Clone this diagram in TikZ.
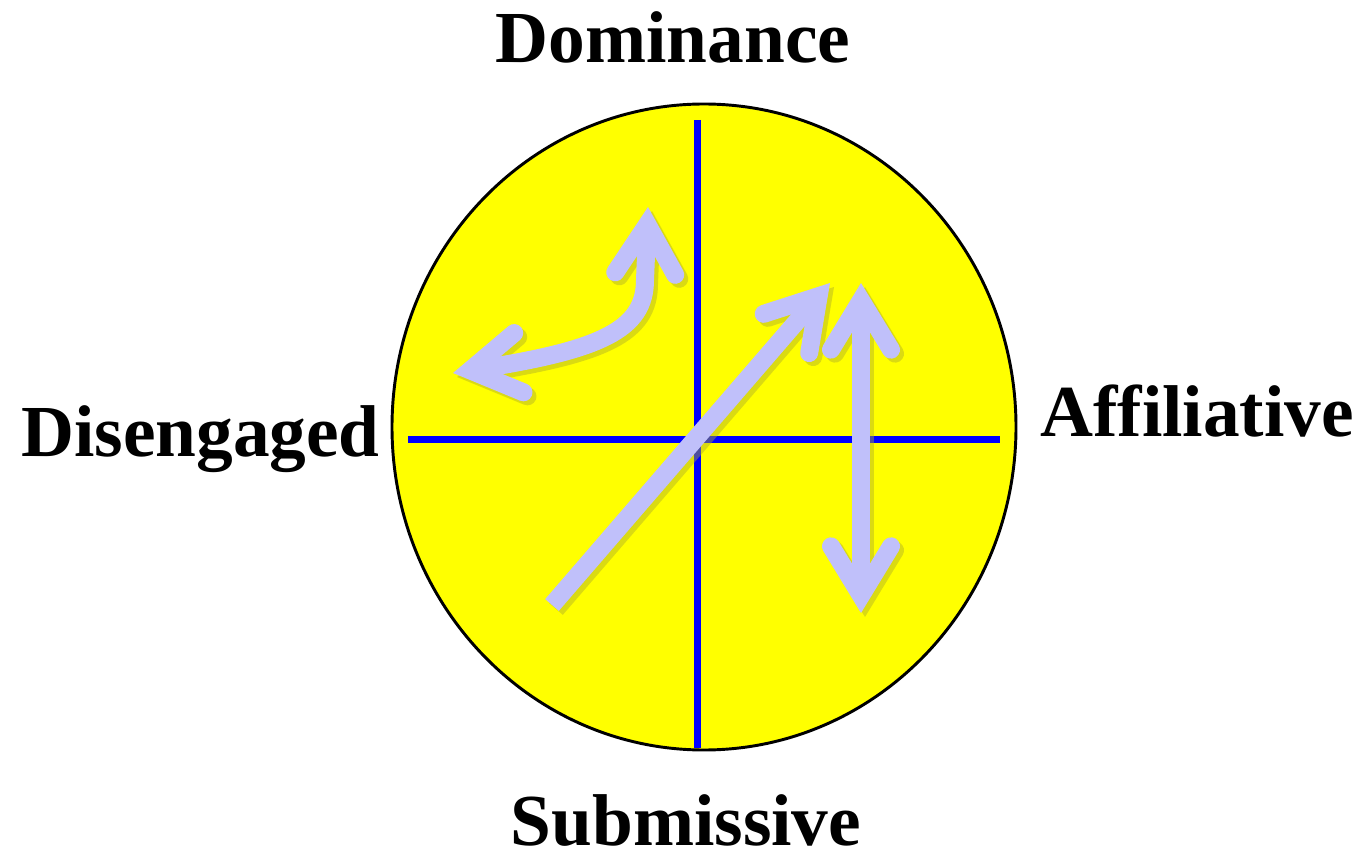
\documentclass[tikz,border=0pt]{standalone}
\usepackage{fontspec}
\setmainfont{Liberation Serif}
\usetikzlibrary{arrows.meta}
\definecolor{discfill}{RGB}{255,255,0}
\definecolor{axisblue}{RGB}{0,0,255}
\definecolor{movecol}{RGB}{192,192,250}
\definecolor{shadecol}{RGB}{175,175,40}

\tikzset{
	pole/.style={font=\fontsize{55}{60}\selectfont\bfseries, inner sep=0pt},
	axisline/.style={draw=axisblue, line width=5.25pt},
	move/.style={line width=13.5pt,
		>={Straight Barb[length=37pt,width=45pt,line cap=round,line join=miter]}}
}

\begin{document}
\begin{tikzpicture}[x=0.75pt,y=-0.75pt]
		\useasboundingbox (0,0) rectangle (1363,862);
		
		% Disc
		\coordinate (centre) at (704,427);
		\draw[fill=discfill, line width=2.2pt] (centre) ellipse [x radius=312, y radius=323];
		
		% Axes
		\coordinate (top) at (697,120);
		\coordinate (bottom) at (697,748);
		\coordinate (left) at (408,440);
		\coordinate (right) at (1000,440);
		\draw[axisline] (top) -- (bottom);
		\draw[axisline] (left) -- (right);
		
		% Moves
		\coordinate (curve end) at (453,373);
		\coordinate (curve bend) at (645,280);
		\coordinate (curve tip) at (648,207);
		\coordinate (diag tail) at (552,605);
		\coordinate (diag tip) at (830,283);
		\coordinate (vert top) at (861,283);
		\coordinate (vert bottom) at (861,613);
		\foreach \off/\col/\op in {3pt/shadecol/0.45, 0pt/movecol/1} {
			\begin{scope}[transform canvas={shift={(\off,-\off)}}, draw=\col, opacity=\op]
				\draw[move, <->] (curve end) .. controls (600,350) and (645,330) .. (curve bend) -- (curve tip);
				\draw[move, ->] (diag tail) -- (diag tip);
				\draw[move, <->] (vert bottom) -- (vert top);
			\end{scope}
		}
		
		% Poles
		\node[pole, anchor=base] (dom) at (673,63) {Dominance};
		\node[pole, anchor=base] (sub) at (686,845) {Submissive};
		\node[pole, anchor=base east] (dis) at (380,457) {Disengaged};
		\node[pole, anchor=base west] (aff) at (1040,437) {Affiliative};
		
	\end{tikzpicture}
\end{document}
